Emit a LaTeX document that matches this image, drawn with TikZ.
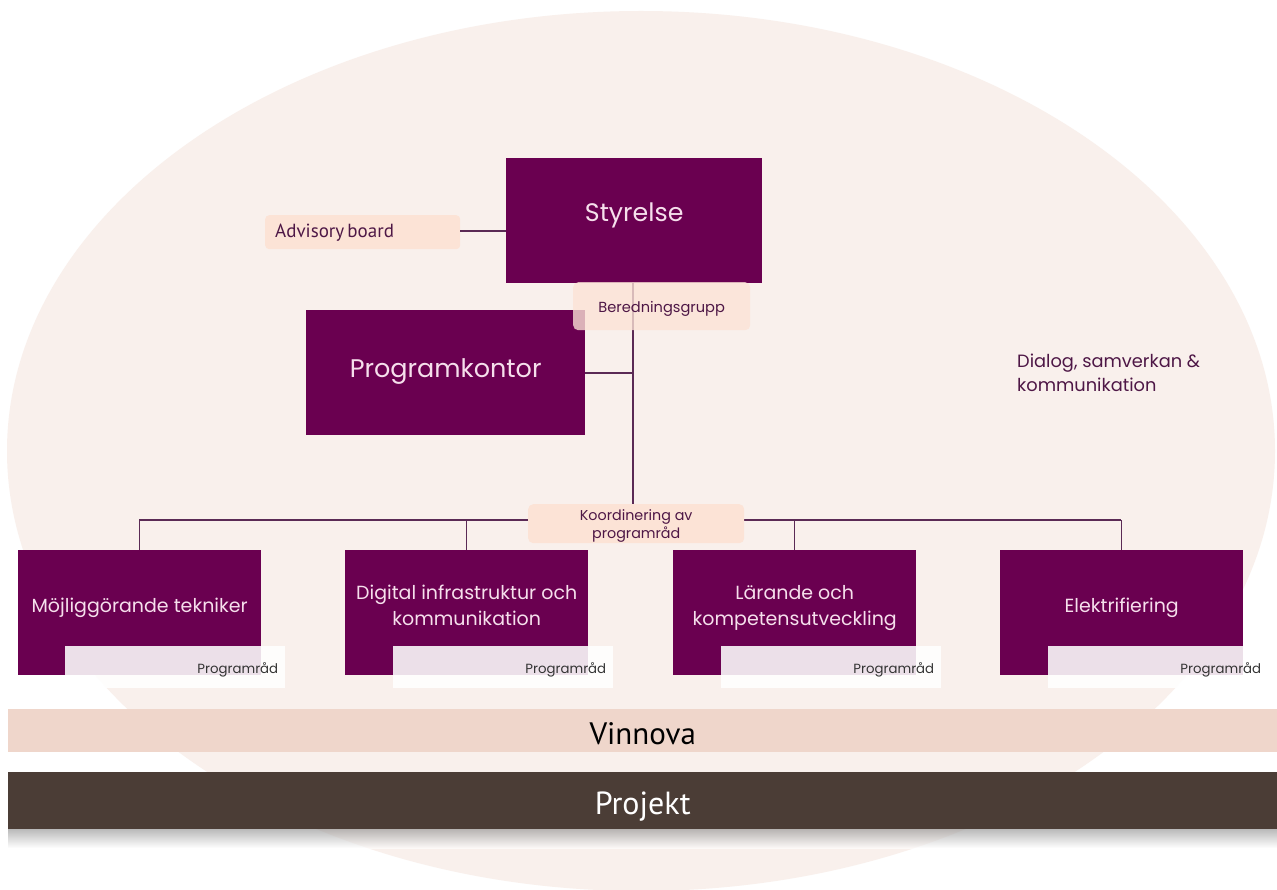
\documentclass[tikz,border=0pt]{standalone}
\usepackage{fontspec}
\setmainfont{Poppins}
\newfontfamily\narrowfont{PT Sans}
\usetikzlibrary{positioning}

\definecolor{plum}{HTML}{6A0050}
\definecolor{blush}{HTML}{F9F0EC}
\definecolor{peach}{HTML}{FCE3D6}
\definecolor{boxtext}{HTML}{F6DFEC}
\definecolor{inktext}{HTML}{4E1746}
\definecolor{linec}{HTML}{5B2A55}
\definecolor{sand}{HTML}{EFD6CB}
\definecolor{umber}{HTML}{4B3D36}

% lift the printed text inside a box without changing the box size
\newcommand{\liftby}[2]{\raisebox{#1}[\height][\depth]{\begin{tabular}{@{}c@{}}#2\end{tabular}}}

\tikzset{
  unitbox/.style={draw=none, fill=plum, text=boxtext, inner sep=0pt,
    anchor=north west, align=center, minimum width=#1},
  unitbox/.default=243pt,
  tagbox/.style={fill=peach, rounded corners=5pt, text=inktext, inner sep=0pt,
    anchor=north west, align=center},
  councilbox/.style={fill=white, fill opacity=0.88, text opacity=1, text=black!80,
    anchor=north west, minimum width=220pt, minimum height=42pt,
    text width=206pt, inner xsep=7pt, inner ysep=0pt, align=right,
    font=\fontsize{13.3}{15}\selectfont},
  link/.style={draw=linec, line width=1.1pt},
  band/.style={anchor=north west, inner sep=0pt, minimum width=1269pt}
}

\begin{document}
\begin{tikzpicture}[x=1pt,y=-1pt]
  % canvas
  \fill[white] (0,0) rectangle (1277,890);
  \useasboundingbox (0,0) rectangle (1277,890);
  % surrounding ellipse
  \fill[blush] (641,451) ellipse [x radius=634, y radius=440];

  % board
  \node[unitbox=256pt, minimum height=125pt, font=\fontsize{25.3}{28}\selectfont]
    (styrelse) at (506,158) {\liftby{4.5pt}{Styrelse}};
  \node[tagbox, minimum width=195pt, minimum height=34pt, rounded corners=4pt,
    text width=181pt, inner xsep=7pt, align=left,
    font=\narrowfont\fontsize{19}{20}\selectfont]
    (advisory) at (265,215) {\hspace*{3pt}Advisory\,board};

  % programme office
  \node[unitbox=279pt, minimum height=125pt, font=\fontsize{25.5}{28}\selectfont]
    (kontor) at (306,310) {\liftby{0.5pt}{Programkontor}};

  % connectors from the board
  \coordinate (hubtop) at (633,283);
  \coordinate (hubmid) at (633,373);
  \coordinate (hubbot) at (633,505);
  \draw[link] (advisory.east |- 0,231) -- (styrelse.west |- 0,231);
  \draw[link] (hubtop) -- (hubbot);
  \draw[link] (kontor.east |- hubmid) -- (hubmid);

  % preparation group
  \node[tagbox, fill opacity=0.78, text opacity=1, minimum width=177pt, minimum height=48pt,
    font=\fontsize{14.6}{16}\selectfont]
    (beredning) at (573,282) {\liftby{-3pt}{Beredningsgrupp}};

  % programme areas
  \foreach \name/\x/\txt in {
      area1/18/{Möjliggörande tekniker},
      area2/345/{Digital infrastruktur och\\kommunikation},
      area3/673/{Lärande och\\kompetensutveckling},
      area4/1000/{Elektrifiering}} {
    \node[unitbox, minimum height=125pt, font=\fontsize{19}{26}\selectfont]
      (\name) at (\x,550) {\liftby{5.5pt}{\txt}};
  }

  % coordination bus
  \coordinate (bus1) at (139,520);
  \coordinate (bus4) at (1121,520);
  \draw[link] (bus1) -- (bus4);
  \foreach \name in {area1,area2,area3,area4}
    \draw[link] (\name.north |- bus1) -- (\name.north);

  \node[tagbox, minimum width=216pt, minimum height=39pt,
    font=\fontsize{14.3}{18}\selectfont]
    (koord) at (528,504) {\liftby{-2.5pt}{Koordinering av\\programråd}};

  % programme councils
  \foreach \name/\x in {rad1/65, rad2/393, rad3/721, rad4/1048}
    \node[councilbox] (\name) at (\x,646) {\raisebox{-3pt}[\height][\depth]{Programråd}};

  % side note
  \node[anchor=north west, align=left, text=inktext, inner sep=0pt,
    font=\fontsize{17.8}{24}\selectfont] (dialog) at (1017,354)
    {Dialog, samverkan \&\\kommunikation};

  % funding and project bands
  \node[band, fill=sand, minimum height=43pt, text=black,
    font=\narrowfont\fontsize{31}{34}\selectfont] (vinnova) at (8,709) {\liftby{-7pt}{Vinnova}};
  \shade[top color=black!45, bottom color=white, opacity=0.6] (8,829) rectangle (1277,848);
  \node[band, fill=umber, minimum height=57pt, text=white,
    font=\narrowfont\fontsize{32}{34}\selectfont] (projekt) at (8,772) {\liftby{-7pt}{Projekt}};
\end{tikzpicture}
\end{document}
